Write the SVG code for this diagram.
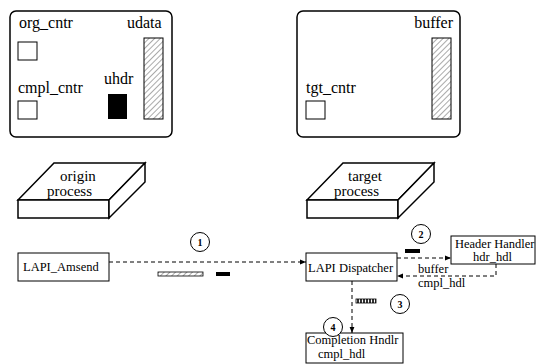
<svg xmlns="http://www.w3.org/2000/svg" width="538" height="364" viewBox="0 0 538 364">
<defs>
<pattern id="hatch" patternUnits="userSpaceOnUse" width="4" height="4" patternTransform="rotate(45)">
<rect width="4" height="4" fill="#fff"/>
<line x1="0" y1="0" x2="0" y2="4" stroke="#555" stroke-width="1"/>
</pattern>
<pattern id="hatch2" patternUnits="userSpaceOnUse" width="3" height="3">
<rect width="3" height="3" fill="#fff"/>
<line x1="1" y1="0" x2="1" y2="3" stroke="#000" stroke-width="1.6"/>
</pattern>
<marker id="arr" viewBox="0 0 10 10" refX="10" refY="5" markerWidth="8" markerHeight="6" markerUnits="userSpaceOnUse" orient="auto">
<path d="M0,1 L10,5 L0,9 Z" fill="#000"/>
</marker>
<style>
.t{font-family:"Liberation Serif","Times New Roman",serif;fill:#000}
.big{font-size:16px}
.mid{font-size:15px}
.sm{font-size:12.5px}
.num{font-size:10px;font-weight:bold}
.frame{fill:#fff;stroke:#000;stroke-width:1.5}
.box{fill:#fff;stroke:#000;stroke-width:1}
.slab{fill:#fff;stroke:#000;stroke-width:1.5;stroke-linejoin:miter}
.dash{fill:none;stroke:#000;stroke-width:1;stroke-dasharray:4 3}
.circ{fill:#fff;stroke:#000;stroke-width:1}
</style>
</defs>
<rect width="538" height="364" fill="#fff"/>

<g id="origin-memory">
<rect class="frame" x="10" y="11" width="162" height="126" rx="6"/>
<text class="t big" x="19" y="28">org_cntr</text>
<rect class="box" x="18" y="42" width="19" height="18"/>
<text class="t big" x="18" y="93">cmpl_cntr</text>
<rect class="box" x="18" y="101" width="19" height="18"/>
<text class="t big" x="104" y="84">uhdr</text>
<rect x="108" y="94" width="19" height="25" fill="#000"/>
<text class="t big" x="127" y="28">udata</text>
<rect x="144" y="38" width="19" height="81" fill="url(#hatch)" stroke="#000" stroke-width="1"/>
</g>

<g id="target-memory">
<rect class="frame" x="297" y="11" width="163" height="126" rx="6"/>
<text class="t big" x="453" y="28" text-anchor="end">buffer</text>
<rect x="432" y="38" width="19" height="81" fill="url(#hatch)" stroke="#000" stroke-width="1"/>
<text class="t big" x="306" y="93">tgt_cntr</text>
<rect class="box" x="306" y="101" width="19" height="18"/>
</g>

<g id="origin-process">
<path class="slab" d="M18,200 L54,163 L145,163 L109,200 Z"/>
<rect class="slab" x="18" y="200" width="91" height="18"/>
<path class="slab" d="M109,200 L145,163 L145,182 L109,218 Z"/>
<text class="t mid" x="60" y="181">origin</text>
<text class="t mid" x="47" y="196">process</text>
</g>

<g id="target-process">
<path class="slab" d="M307,200 L343,163 L434,163 L398,200 Z"/>
<rect class="slab" x="307" y="200" width="91" height="18"/>
<path class="slab" d="M398,200 L434,163 L434,182 L398,218 Z"/>
<text class="t mid" x="348" y="181">target</text>
<text class="t mid" x="334" y="196">process</text>
</g>

<g id="lapi-amsend">
<rect class="box" x="18" y="253" width="91" height="28"/>
<text class="t sm" x="23" y="271">LAPI_Amsend</text>
</g>

<g id="lapi-dispatcher">
<rect class="box" x="306" y="253" width="91" height="28"/>
<text class="t sm" x="308" y="272">LAPI Dispatcher</text>
</g>

<g id="header-handler">
<rect class="box" x="451" y="236" width="84" height="28"/>
<text class="t sm" x="455" y="248">Header Handler</text>
<text class="t sm" x="473" y="261">hdr_hdl</text>
</g>

<g id="completion-handler">
<rect class="box" x="306" y="333" width="97" height="30"/>
<text class="t sm" x="307" y="344">Completion Hndlr</text>
<text class="t sm" x="318" y="358">cmpl_hdl</text>
</g>

<g id="connectors">
<path class="dash" d="M109,262 L306,262" marker-end="url(#arr)"/>
<path class="dash" d="M397,258 L451,258" marker-end="url(#arr)"/>
<path class="dash" d="M496,264 L496,276 L397,276" marker-end="url(#arr)"/>
<path class="dash" d="M352,281 L352,333" marker-end="url(#arr)"/>
</g>

<g id="labels">
<rect x="158" y="272" width="45" height="4" fill="url(#hatch)" stroke="#000" stroke-width="0.8"/>
<rect x="216" y="272" width="14" height="4" fill="#000"/>
<rect x="405" y="249" width="15" height="4" fill="#000"/>
<rect x="356" y="299" width="20" height="4" fill="url(#hatch2)" stroke="#000" stroke-width="0.8"/>
<text class="t sm" x="418" y="273">buffer</text>
<text class="t sm" x="418" y="287">cmpl_hdl</text>
<circle class="circ" cx="200" cy="242" r="9.5"/>
<text class="t num" x="200" y="245.5" text-anchor="middle">1</text>
<circle class="circ" cx="421" cy="234" r="9.5"/>
<text class="t num" x="421" y="237.5" text-anchor="middle">2</text>
<circle class="circ" cx="400" cy="304" r="9.5"/>
<text class="t num" x="400" y="307.5" text-anchor="middle">3</text>
<circle class="circ" cx="333" cy="327" r="9.5"/>
<text class="t num" x="333" y="330.5" text-anchor="middle">4</text>
</g>
</svg>
